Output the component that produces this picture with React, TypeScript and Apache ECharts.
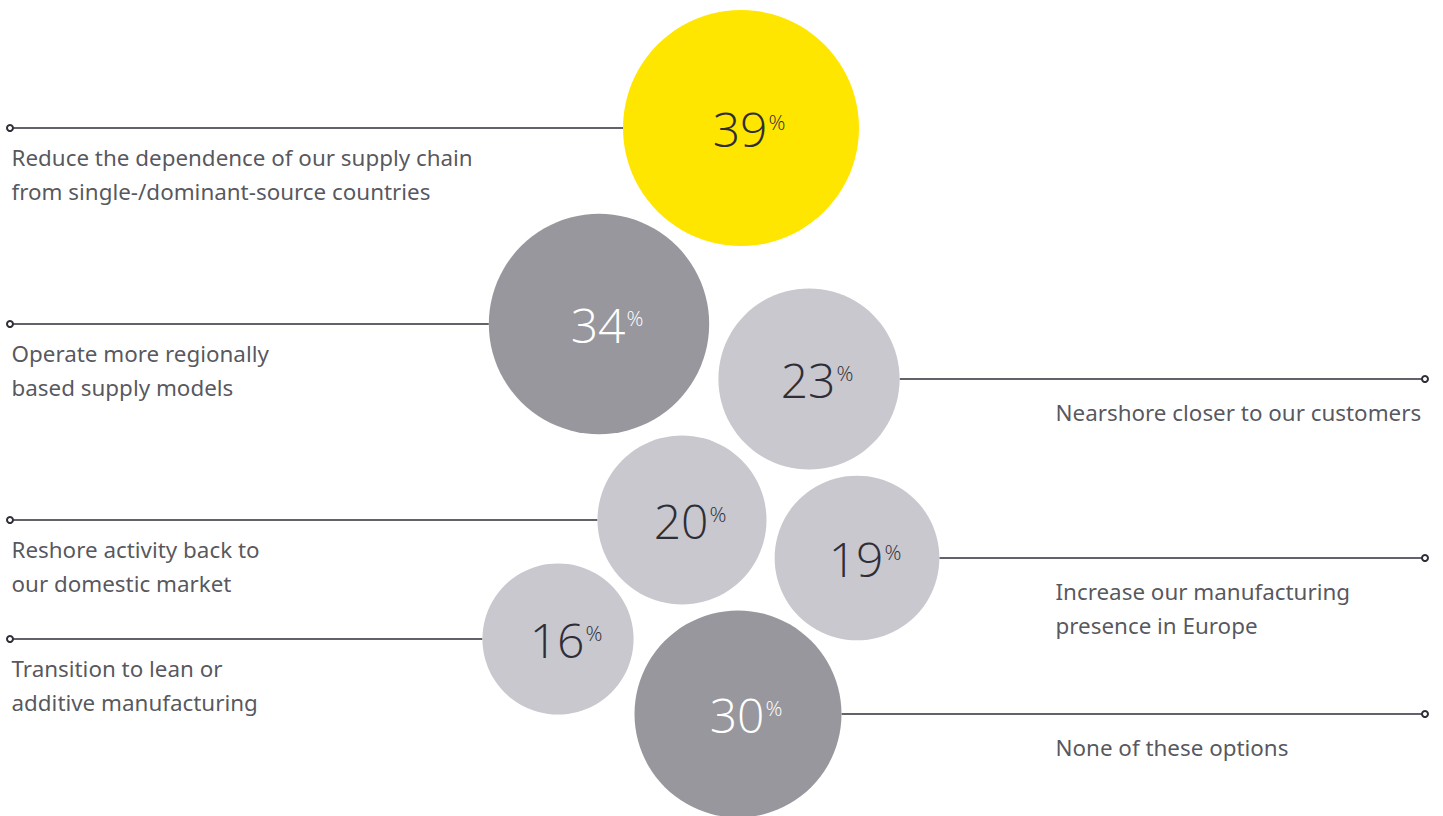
import React, { useEffect, useRef } from "react";
import * as echarts from "echarts";

const W = 1443;
const H = 816;

const labels = [
  "Reduce the dependence of our supply chain\nfrom single-/dominant-source countries",
  "Operate more regionally\nbased supply models",
  "Nearshore closer to our customers",
  "Reshore activity back to\nour domestic market",
  "Increase our manufacturing\npresence in Europe",
  "Transition to lean or\nadditive manufacturing",
  "None of these options",
];
const values = [39, 34, 23, 20, 19, 16, 30];
const centerX = [741, 599, 809, 682, 857, 558, 738];
const centerY = [128, 324, 379, 520, 558, 639, 714];
const sides = ["left", "left", "right", "left", "right", "left", "right"];
const tones = ["yellow", "dark", "light", "light", "light", "light", "dark"];

const FILL: Record<string, string> = { yellow: "#FFE600", dark: "#97979D", light: "#C8C8CE" };
const INK: Record<string, string> = { yellow: "#2E2E38", dark: "#FFFFFF", light: "#2E2E38" };

const MAX_R = 118; // radius of the largest bubble (axis units = px)
const radiusOf = (v: number) => MAX_R * Math.sqrt(v / Math.max(...values));

export default function App() {
  const ref = useRef<HTMLDivElement>(null);
  useEffect(() => {
    if (!ref.current) return;
    const chart = echarts.init(ref.current, undefined, { renderer: "svg" });

    const lineSeries = values.map((v, i) => {
      const r = radiusOf(v);
      const left = sides[i] === "left";
      const outer = left ? 10 : 1425;
      const edge = left ? centerX[i] - r : centerX[i] + r;
      return {
        type: "line",
        silent: true,
        z: 1,
        lineStyle: { color: "#2E2E38", width: 1.5 },
        itemStyle: { color: "#2E2E38", borderColor: "#2E2E38", borderWidth: 1.2 },
        data: [
          { value: [outer, centerY[i]], symbol: "emptyCircle", symbolSize: 6 },
          { value: [edge, centerY[i]], symbol: "none" },
        ],
      };
    });

    const textData = labels.map((t, i) => {
      const left = sides[i] === "left";
      const nLines = t.split("\n").length;
      const gap = left ? 29.5 : 33;
      return {
        value: [left ? 11 : 1055, centerY[i] + gap + (nLines - 1) * 17],
        label: { formatter: t },
      };
    });

    chart.setOption({
      animation: false,
      grid: { left: 0, right: 0, top: 0, bottom: 0 },
      xAxis: { type: "value", min: 0, max: W, show: false },
      yAxis: { type: "value", min: 0, max: H, inverse: true, show: false },
      series: [
        ...lineSeries,
        {
          type: "scatter",
          z: 3,
          data: values.map((v, i) => ({
            value: [centerX[i], centerY[i], v],
            itemStyle: { color: FILL[tones[i]], opacity: 1 },
            label: {
              color: INK[tones[i]],
              rich: {
                n: { fontSize: 48, fontWeight: 300, fontFamily: "Open Sans", color: INK[tones[i]], lineHeight: 50 },
                p: { fontSize: 21, fontWeight: 300, fontFamily: "Open Sans", color: INK[tones[i]], lineHeight: 24, verticalAlign: "top", padding: [8, 0, 0, 1] },
              },
            },
          })),
          symbolSize: (val: number[]) => 2 * radiusOf(val[2]),
          label: {
            show: true,
            position: "inside",
            offset: [8, 0],
            formatter: (p: any) => `{n|${p.value[2]}}{p|%}`,
          },
        },
        {
          type: "scatter",
          z: 2,
          silent: true,
          symbolSize: 1,
          itemStyle: { color: "rgba(0,0,0,0)" },
          data: textData,
          label: {
            show: true,
            position: "right",
            distance: 0,
            fontFamily: "Noto Sans",
            fontSize: 22.4,
            lineHeight: 34,
            color: "#2A2A33",
            align: "left",
            verticalAlign: "middle",
          },
        },
      ],
    });
    return () => chart.dispose();
  }, []);
  return (
    <div
      ref={ref}
      style={{ position: "fixed", left: 0, top: 0, width: W, height: H, background: "#FFFFFF" }}
    />
  );
}
